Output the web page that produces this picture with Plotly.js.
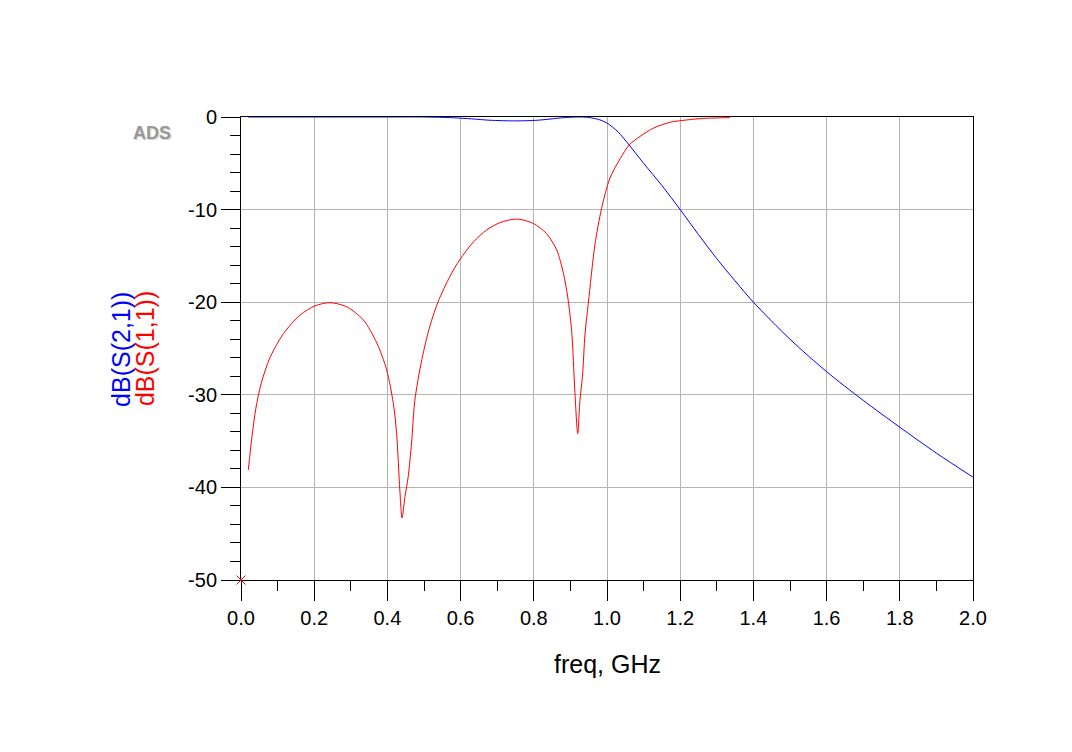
<!DOCTYPE html>
<html>
<head>
<meta charset="utf-8">
<script src="https://cdn.plot.ly/plotly-3.0.1.min.js"></script>
<style>html,body{margin:0;padding:0;background:#fff;}#chart{width:1072px;height:752px;}</style>
</head>
<body>
<div id="chart"></div>
<script>
// S21 (blue)
const s21Freq = [0.02,0.1,0.2,0.3,0.4,0.5,0.58,0.63,0.68,0.75,0.81,0.85,0.88,0.92,0.95,0.98,1.0,1.03,1.06,1.1,1.15,1.2,1.25,1.3,1.35,1.4,1.5,1.6,1.7,1.8,1.9,2.0];
const s21dB   = [0,0,0,0,0,0,-0.08,-0.2,-0.35,-0.42,-0.35,-0.2,-0.08,0,-0.05,-0.3,-0.65,-1.6,-3.0,-5.0,-7.4,-10.0,-12.7,-15.3,-17.7,-20.0,-24.0,-27.5,-30.6,-33.5,-36.3,-38.9];
// S11 (red)
const s11Freq = [0.02,0.03,0.04,0.055,0.079,0.116,0.161,0.202,0.243,0.289,0.334,0.371,0.398,0.416,0.425,0.434,0.440,0.448,0.457,0.466,0.475,0.494,0.516,0.539,0.571,0.598,0.635,0.671,0.708,0.744,0.762,0.799,0.835,0.863,0.881,0.894,0.904,0.912,0.920,0.926,0.933,0.940,0.949,0.967,0.985,1.008,1.036,1.061,1.090,1.127,1.172,1.218,1.263,1.336];
const s11dB   = [-38.1,-34.5,-31.6,-28.8,-26.0,-23.4,-21.4,-20.4,-20.05,-20.5,-21.9,-24.4,-27.3,-30.9,-34.1,-40.3,-43.3,-41.0,-38.8,-35.2,-30.6,-26.2,-22.6,-19.9,-17.2,-15.4,-13.5,-12.2,-11.4,-11.05,-11.05,-11.5,-12.6,-14.4,-16.9,-19.8,-23.4,-29.5,-34.2,-30.6,-28.0,-23.4,-20.1,-13.8,-9.9,-6.6,-4.5,-3.0,-2.1,-1.2,-0.57,-0.32,-0.15,-0.07];
// marker
const markerFreq = [0];
const markerdB = [-50];

const xTickVals = [0,0.2,0.4,0.6,0.8,1.0,1.2,1.4,1.6,1.8,2.0];
const xTickText = ["0.0","0.2","0.4","0.6","0.8","1.0","1.2","1.4","1.6","1.8","2.0"];
const yTickVals = [0,-10,-20,-30,-40,-50];
const yTickText = ["0","-10","-20","-30","-40","-50"];

const FONT = "Liberation Sans, Arial, sans-serif";

const traces = [
  {x: s21Freq, y: s21dB, type: 'scatter', mode: 'lines', line: {color: '#0000ff', width: 1, shape: 'spline', smoothing: 0.8}, hoverinfo: 'none'},
  {x: s11Freq, y: s11dB, type: 'scatter', mode: 'lines', line: {color: '#ff0000', width: 1, shape: 'spline', smoothing: 0.8}, hoverinfo: 'none'},
  {x: markerFreq, y: markerdB, type: 'scatter', mode: 'markers', cliponaxis: false,
   marker: {symbol: 'x-thin-open', size: 9, line: {color: '#ff0000', width: 1}, color: '#ff0000'}, hoverinfo: 'none'}
];

const axisCommon = {
  showline: true, linecolor: '#000', linewidth: 1, mirror: true,
  showgrid: true, gridcolor: '#b4b4b4', gridwidth: 1,
  zeroline: false, ticks: 'outside', tickcolor: '#000', tickwidth: 1,
  tickfont: {family: FONT, size: 20, color: '#000'},
  layer: 'below traces', fixedrange: true
};

const layout = {
  width: 1072, height: 752,
  margin: {l: 241, r: 99, t: 117, b: 172},
  paper_bgcolor: '#fff', plot_bgcolor: '#fff',
  showlegend: false,
  xaxis: Object.assign({}, axisCommon, {
    range: [0, 2], tickmode: 'array', tickvals: xTickVals, ticktext: xTickText, ticklen: 20,
    minor: {dtick: 0.1, tick0: 0, ticklen: 10, tickcolor: '#000', tickwidth: 1, ticks: 'outside', showgrid: false}
  }),
  yaxis: Object.assign({}, axisCommon, {
    range: [-50, 0], tickmode: 'array', tickvals: yTickVals, ticktext: yTickText, ticklen: 19,
    minor: {dtick: 2, tick0: 0, ticklen: 10, tickcolor: '#000', tickwidth: 1, ticks: 'outside', showgrid: false}
  }),
  annotations: [
    {text: 'freq, GHz', xref: 'paper', yref: 'paper', x: 0.5, y: -0.181, xanchor: 'center', yanchor: 'middle',
     showarrow: false, font: {family: FONT, size: 25, color: '#000'}},
    {text: 'dB(S(2,1))', xref: 'paper', yref: 'paper', x: -0.164, y: 0.499, xanchor: 'center', yanchor: 'middle',
     textangle: -90, showarrow: false, font: {family: FONT, size: 25, color: '#0000ff'}},
    {text: 'dB(S(1,1))', xref: 'paper', yref: 'paper', x: -0.131, y: 0.499, xanchor: 'center', yanchor: 'middle',
     textangle: -90, showarrow: false, font: {family: FONT, size: 25, color: '#ff0000'}},
    {text: '<b>ADS</b>', xref: 'paper', yref: 'paper', x: -0.122, y: 0.965, xanchor: 'center', yanchor: 'middle',
     showarrow: false, font: {family: FONT, size: 18, color: '#999999', shadow: '1px 1px 1px #cfcfcf'}}
  ]
};

Plotly.newPlot('chart', traces, layout, {staticPlot: true, displayModeBar: false});
</script>
</body>
</html>
